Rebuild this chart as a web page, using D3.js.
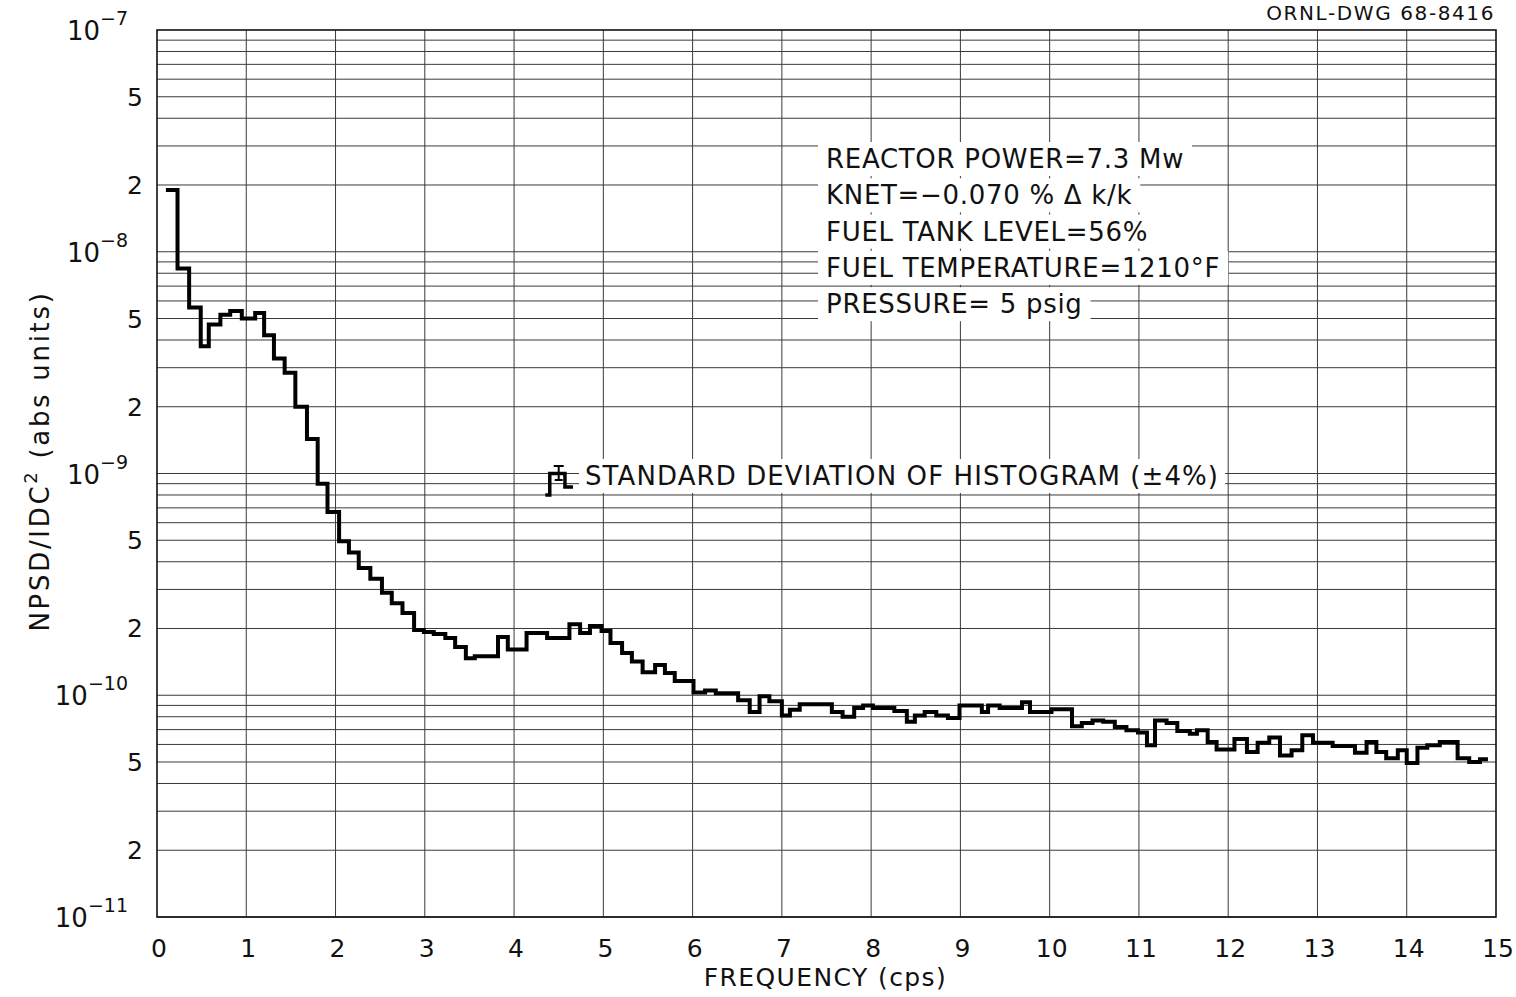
<!DOCTYPE html>
<html>
<head>
<meta charset="utf-8">
<script src="https://cdn.jsdelivr.net/npm/d3@7"></script>
<style>
  body { margin: 0; background: #fff; }
  text { font-family: "DejaVu Sans", sans-serif; fill: #111; }
</style>
</head>
<body>
<svg id="chart" width="1516" height="997"></svg>
<script>
// histogram step left edges (cps) and NPSD values
const stepFreq = [
  0.10, 0.23, 0.36, 0.49, 0.58, 0.71, 0.82, 0.95, 1.10, 1.20,
  1.31, 1.43, 1.55, 1.68, 1.80, 1.91, 2.04, 2.15, 2.26, 2.39,
  2.52, 2.63, 2.75, 2.88, 2.99, 3.10, 3.23, 3.34, 3.46, 3.56,
  3.82, 3.93, 4.14, 4.37, 4.62, 4.74, 4.85, 4.98, 5.08, 5.21,
  5.32, 5.44, 5.58, 5.69, 5.80, 6.01, 6.14, 6.26, 6.51, 6.64,
  6.75, 6.86, 7.00, 7.09, 7.20, 7.56, 7.68, 7.81, 7.91, 8.02,
  8.26, 8.40, 8.49, 8.60, 8.73, 8.86, 8.99, 9.24, 9.31, 9.44,
  9.69, 9.78, 10.02, 10.25, 10.36, 10.48, 10.60, 10.73, 10.86, 10.99,
  11.09, 11.18, 11.31, 11.43, 11.57, 11.65, 11.77, 11.87, 12.07, 12.21,
  12.33, 12.46, 12.58, 12.71, 12.83, 12.95, 13.17, 13.42, 13.55, 13.66,
  13.77, 13.90, 14.00, 14.12, 14.23, 14.37, 14.57, 14.70, 14.82
];
const stepNpsd = [
  1.9e-8, 8.4e-9, 5.6e-9, 3.75e-9, 4.7e-9, 5.2e-9, 5.4e-9, 5.0e-9, 5.3e-9, 4.2e-9,
  3.3e-9, 2.85e-9, 2.0e-9, 1.43e-9, 9.0e-10, 6.7e-10, 4.95e-10, 4.4e-10, 3.75e-10, 3.35e-10,
  2.9e-10, 2.6e-10, 2.35e-10, 1.97e-10, 1.93e-10, 1.89e-10, 1.81e-10, 1.65e-10, 1.47e-10, 1.5e-10,
  1.83e-10, 1.61e-10, 1.91e-10, 1.81e-10, 2.09e-10, 1.91e-10, 2.05e-10, 1.95e-10, 1.72e-10, 1.55e-10,
  1.42e-10, 1.27e-10, 1.37e-10, 1.26e-10, 1.16e-10, 1.03e-10, 1.05e-10, 1.02e-10, 9.5e-11, 8.4e-11,
  9.9e-11, 9.4e-11, 8.1e-11, 8.6e-11, 9.1e-11, 8.4e-11, 8.0e-11, 8.75e-11, 9.0e-11, 8.75e-11,
  8.5e-11, 7.6e-11, 8.1e-11, 8.4e-11, 8.1e-11, 7.9e-11, 9.0e-11, 8.4e-11, 9.0e-11, 8.75e-11,
  9.3e-11, 8.4e-11, 8.65e-11, 7.25e-11, 7.5e-11, 7.7e-11, 7.6e-11, 7.2e-11, 6.95e-11, 6.8e-11,
  5.95e-11, 7.7e-11, 7.5e-11, 6.9e-11, 6.7e-11, 6.95e-11, 6.15e-11, 5.7e-11, 6.35e-11, 5.55e-11,
  6.1e-11, 6.45e-11, 5.35e-11, 5.65e-11, 6.6e-11, 6.1e-11, 5.9e-11, 5.5e-11, 6.15e-11, 5.55e-11,
  5.2e-11, 5.65e-11, 4.95e-11, 5.8e-11, 5.95e-11, 6.15e-11, 5.2e-11, 5.0e-11, 5.15e-11
];
const stepEnd = 14.91;

const xTicks = d3.range(0, 16);
const yDecades = [-11, -10, -9, -8, -7];
const yMinorLabels = [2, 5];

const infoLines = [
  "REACTOR POWER=7.3 Mw",
  "KNET=\u22120.070 % \u0394 k/k",
  "FUEL TANK LEVEL=56%",
  "FUEL TEMPERATURE=1210\u00b0F",
  "PRESSURE= 5 psig"
];

// one sample histogram bar with its error bar (legend glyph)
const sdFreq = [4.35, 4.40, 4.57, 4.66];
const sdNpsd = [8.0e-10, 1.0e-9, 8.7e-10];
const sdErr = [9.35e-10, 1.08e-9];

const svg = d3.select('#chart');

const x = d3.scaleLinear().domain([0, 15]).range([157, 1496]);
const y = d3.scaleLog().domain([1e-11, 1e-7]).range([917, 30]);

// grid
const gridY = [];
for (let k = -11; k < -7; k++)
  for (let m = 1; m < 10; m++) gridY.push(m * Math.pow(10, k));

const grid = svg.append('g');
grid.selectAll('line.h')
  .data(gridY)
  .enter().append('line')
  .attr('x1', x(0)).attr('x2', x(15))
  .attr('y1', d => y(d)).attr('y2', d => y(d))
  .attr('stroke', '#3a3a3a')
  .attr('stroke-width', 1);

grid.selectAll('line.v')
  .data(xTicks.slice(1, 15))
  .enter().append('line')
  .attr('x1', d => x(d)).attr('x2', d => x(d))
  .attr('y1', y(1e-7)).attr('y2', y(1e-11))
  .attr('stroke', '#3a3a3a')
  .attr('stroke-width', 1);

// frame
svg.append('rect')
  .attr('x', x(0)).attr('y', y(1e-7))
  .attr('width', x(15) - x(0)).attr('height', y(1e-11) - y(1e-7))
  .attr('fill', 'none').attr('stroke', '#111').attr('stroke-width', 1.6);

// x tick labels
svg.append('g').selectAll('text')
  .data(xTicks)
  .enter().append('text')
  .attr('x', d => x(d) + 2)
  .attr('y', 957)
  .attr('text-anchor', 'middle')
  .attr('font-size', 25)
  .text(d => d);

// y tick labels
const yl = svg.append('g');
for (const e of yDecades) {
  const t = yl.append('text')
    .attr('x', 128).attr('y', y(Math.pow(10, e)) + 10)
    .attr('text-anchor', 'end')
    .attr('font-size', 26);
  t.append('tspan').text('10');
  t.append('tspan').attr('dy', -15).attr('font-size', 19).text('\u2212' + (-e));
  if (e < -7) {
    for (const m of yMinorLabels) {
      yl.append('text')
        .attr('x', 143).attr('y', y(m * Math.pow(10, e)) + 9)
        .attr('text-anchor', 'end')
        .attr('font-size', 25)
        .text(m);
    }
  }
}

// axis titles
svg.append('text')
  .attr('x', x(7.5) - 1).attr('y', 986)
  .attr('text-anchor', 'middle')
  .attr('font-size', 25)
  .attr('letter-spacing', 1.4)
  .text('FREQUENCY (cps)');

const ylab = svg.append('text')
  .attr('transform', 'translate(49,461) rotate(-90)')
  .attr('text-anchor', 'middle')
  .attr('font-size', 26)
  .attr('letter-spacing', 2.7);
ylab.append('tspan').text('NPSD/IDC');
ylab.append('tspan').attr('dy', -12).attr('font-size', 18).text('2');
ylab.append('tspan').attr('dy', 12).text(' (abs units)');

svg.append('text')
  .attr('x', 1495).attr('y', 20)
  .attr('text-anchor', 'end')
  .attr('font-size', 20)
  .attr('letter-spacing', 1.6)
  .text('ORNL-DWG 68-8416');

// histogram
const pts = stepFreq.map((f, i) => [f, stepNpsd[i]]);
pts.push([stepEnd, stepNpsd[stepNpsd.length - 1]]);

const line = d3.line()
  .x(d => x(d[0]))
  .y(d => y(d[1]))
  .curve(d3.curveStepAfter);

svg.append('path')
  .datum(pts)
  .attr('d', line)
  .attr('fill', 'none')
  .attr('stroke', '#000')
  .attr('stroke-width', 4)
  .attr('stroke-linejoin', 'miter');

// info block with white backing behind each line
const info = svg.append('g');
infoLines.forEach((s, i) => {
  const t = info.append('text')
    .attr('x', 826).attr('y', 168 + i * 36.3)
    .attr('font-size', 26)
    .attr('letter-spacing', 0.7)
    .text(s);
  const b = t.node().getBBox();
  info.insert('rect', 'text')
    .attr('x', b.x - 8).attr('y', b.y - 2)
    .attr('width', b.width + 16).attr('height', b.height + 4)
    .attr('fill', '#fff');
});

// standard deviation marker
const sd = svg.append('g');
sd.append('path')
  .datum([[sdFreq[0], sdNpsd[0]], [sdFreq[1], sdNpsd[1]], [sdFreq[2], sdNpsd[2]], [sdFreq[3], sdNpsd[2]]])
  .attr('d', line)
  .attr('fill', 'none').attr('stroke', '#000').attr('stroke-width', 3.5);
const ex = x(4.5);
sd.append('path')
  .attr('d', `M${ex - 5},${y(sdErr[1])}H${ex + 5}M${ex},${y(sdErr[1])}V${y(sdErr[0])}M${ex - 4},${y(sdErr[0])}H${ex + 4}`)
  .attr('stroke', '#000').attr('stroke-width', 2).attr('fill', 'none');
const st = sd.append('text')
  .attr('x', 585).attr('y', 485)
  .attr('font-size', 26)
  .attr('letter-spacing', 1.1)
  .text('STANDARD DEVIATION OF HISTOGRAM (\u00b14%)');
const sb = st.node().getBBox();
sd.insert('rect', 'text')
  .attr('x', sb.x - 6).attr('y', sb.y - 2)
  .attr('width', sb.width + 12).attr('height', sb.height + 4)
  .attr('fill', '#fff');
</script>
</body>
</html>
